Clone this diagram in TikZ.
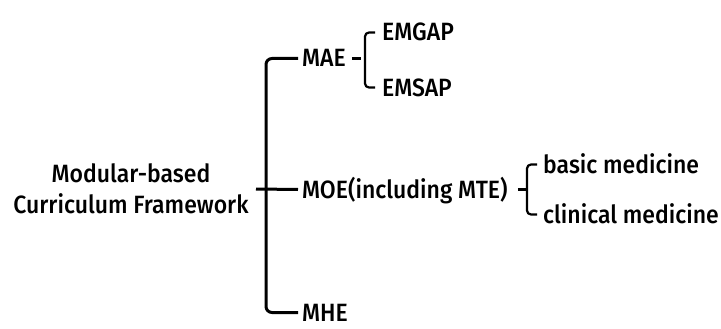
\documentclass[tikz,border=0pt]{standalone}
\usepackage{fontspec}
\setmainfont{Fira Sans Medium}[FakeStretch=0.92]
\begin{document}
\begin{tikzpicture}[x=1pt,y=-1pt,
  lbl/.style={anchor=base west, inner sep=0pt, text height=17pt, text depth=0pt, font=\fontsize{25}{30}\selectfont},
  rootlbl/.style={align=center, inner sep=0pt, font=\fontsize{25}{31}\selectfont},
  trunk/.style={line width=3pt, rounded corners=6pt},
  brace/.style={line width=2.2pt, rounded corners=4pt}]
\useasboundingbox (0,0) rectangle (721,329);
\node[rootlbl] (root) at (131,189) {Modular-based\\Curriculum Framework};
\node[lbl] (mae) at (302,67) {MAE};
\node[lbl] (moe) at (302,198) {MOE(including MTE)};
\node[lbl] (mhe) at (302,321) {MHE};
\node[lbl] (emgap) at (382,41) {EMGAP};
\node[lbl] (emsap) at (382,96) {EMSAP};
\node[lbl] (basic) at (543,173) {basic medicine};
\node[lbl] (clin) at (543,223) {clinical medicine};
\coordinate (jn) at (266,189);
\coordinate (tk) at (256,189);
% trunk
\draw[trunk] ([xshift=-4pt]mae.west) -| (jn) |- ([xshift=-4pt]mhe.west);
\draw[trunk] (tk) -- (moe.west -| 298,0);
% MAE bracket
\draw[brace] ([xshift=6pt]mae.east) -- ++(9,0);
\draw[brace] ([xshift=-7pt]emgap.west) -| ([xshift=-17pt]emsap.west) -- ([xshift=-7pt]emsap.west);
% MOE bracket
\draw[brace] ([xshift=10pt]moe.east) -- ++(9,0);
\draw[brace] ([xshift=-6pt]basic.west) -| ([xshift=-16pt]clin.west) -- ([xshift=-6pt]clin.west);
\end{tikzpicture}
\end{document}
